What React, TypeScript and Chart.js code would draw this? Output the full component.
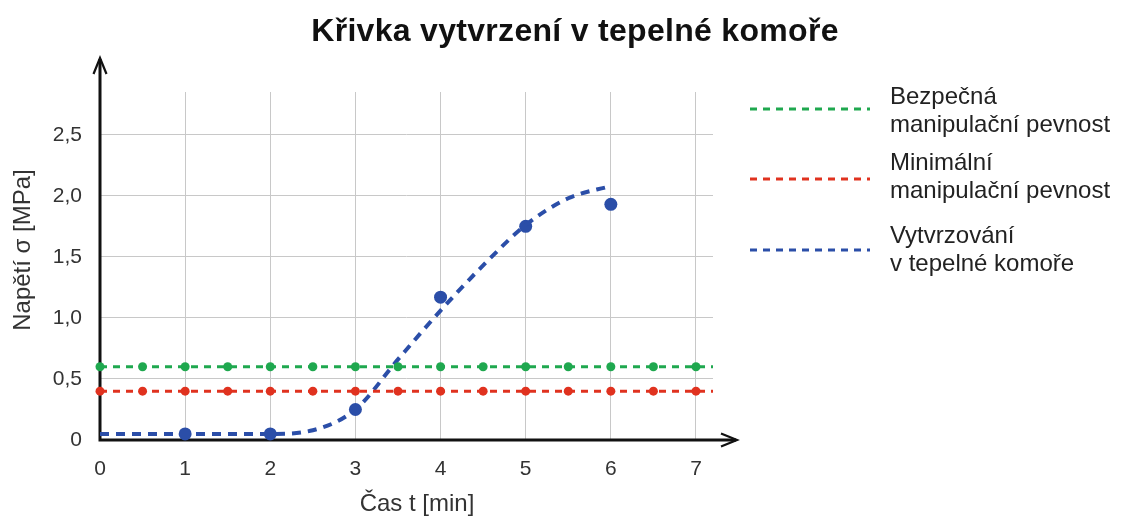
import React, { useEffect, useRef } from "react";
import { Chart, registerables } from "chart.js";

Chart.register(...registerables);

const chartTitle = "Křivka vytvrzení v tepelné komoře";
const xAxisTitle = "Čas t [min]";
const yAxisTitle = "Napětí σ [MPa]";
const xTicks = [0, 1, 2, 3, 4, 5, 6, 7];
const yTicks = [0, 0.5, 1, 1.5, 2, 2.5];

const levelX = [0, 0.5, 1, 1.5, 2, 2.5, 3, 3.5, 4, 4.5, 5, 5.5, 6, 6.5, 7, 7.2];
const safeStrength = 0.6;
const minStrength = 0.4;

const measuredX = [1, 2, 3, 4, 5, 6];
const measuredY = [0.05, 0.05, 0.25, 1.17, 1.75, 1.93];

const curveX = [0, 0.5, 1, 1.5, 2, 2.5, 3, 3.5, 4, 4.5, 5, 5.5, 6];
const curveY = [0.05, 0.05, 0.05, 0.05, 0.05, 0.08, 0.25, 0.66, 1.06, 1.43, 1.76, 1.98, 2.08];

const legendLabels = [
  ["Bezpečná", "manipulační pevnost"],
  ["Minimální", "manipulační pevnost"],
  ["Vytvrzování", "v tepelné komoře"],
];

const GREEN = "#1fa84f";
const RED = "#e0321f";
const BLUE = "#2b4ea8";
const FONT = "'Liberation Sans', Arial, sans-serif";

const axesPlugin = {
  id: "arrowAxes",
  beforeDatasetsDraw(chart: any) {
    const { ctx, scales } = chart;
    const x0 = scales.x.getPixelForValue(0);
    const y0 = scales.y.getPixelForValue(0);
    const xEnd = chart.chartArea.right + 24;
    const yEnd = chart.chartArea.top - 34;
    ctx.save();
    ctx.strokeStyle = "#111";
    ctx.lineWidth = 3;
    ctx.lineCap = "butt";
    ctx.beginPath();
    ctx.moveTo(x0, y0 + 1.5);
    ctx.lineTo(x0, yEnd + 1);
    ctx.moveTo(x0 - 1.5, y0);
    ctx.lineTo(xEnd - 1, y0);
    ctx.stroke();
    ctx.lineWidth = 2.2;
    ctx.lineJoin = "miter";
    ctx.beginPath();
    ctx.moveTo(x0 - 6.5, yEnd + 16);
    ctx.lineTo(x0, yEnd);
    ctx.lineTo(x0 + 6.5, yEnd + 16);
    ctx.moveTo(xEnd - 16, y0 - 6.5);
    ctx.lineTo(xEnd, y0);
    ctx.lineTo(xEnd - 16, y0 + 6.5);
    ctx.stroke();
    ctx.restore();
  },
};

const textPlugin = {
  id: "titleLegend",
  afterDraw(chart: any) {
    const { ctx } = chart;
    ctx.save();
    ctx.fillStyle = "#111";
    ctx.font = `bold 32px ${FONT}`;
    try {
      (ctx as any).letterSpacing = "0.3px";
    } catch (e) {}
    ctx.textAlign = "center";
    ctx.textBaseline = "alphabetic";
    ctx.fillText(chartTitle, 575, 41);
    try {
      (ctx as any).letterSpacing = "0px";
    } catch (e) {}

    // axis titles
    ctx.fillStyle = "#333";
    ctx.font = `24px ${FONT}`;
    ctx.fillText(xAxisTitle, 417, 511);
    ctx.save();
    ctx.translate(23, 250);
    ctx.rotate(-Math.PI / 2);
    ctx.textBaseline = "middle";
    ctx.fillText(yAxisTitle, 0, 0);
    ctx.restore();

    // legend
    const baselines = [104, 170, 243];
    const sampleY = [109, 179, 250];
    ctx.font = `24px ${FONT}`;
    ctx.textAlign = "left";
    ctx.fillStyle = "#222";
    legendLabels.forEach((lines, i) => {
      const ds = chart.data.datasets[i];
      ctx.save();
      ctx.strokeStyle = ds.borderColor;
      ctx.lineWidth = 3;
      ctx.setLineDash([7, 6]);
      ctx.beginPath();
      ctx.moveTo(750, sampleY[i]);
      ctx.lineTo(870, sampleY[i]);
      ctx.stroke();
      ctx.restore();
      lines.forEach((t, j) => ctx.fillText(t, 890, baselines[i] + j * 28));
    });
    ctx.restore();
  },
};

export default function App() {
  const ref = useRef<HTMLCanvasElement | null>(null);

  useEffect(() => {
    if (!ref.current) return;
    const chart = new Chart(ref.current, {
      type: "scatter",
      data: {
        datasets: [
          {
            label: "Bezpečná manipulační pevnost",
            data: levelX.map((x) => ({ x, y: safeStrength })),
            showLine: true,
            borderColor: GREEN,
            backgroundColor: GREEN,
            borderWidth: 3,
            borderDash: [7, 6],
            pointRadius: levelX.map((x) => (x > 7 ? 0 : 4.5)),
            pointBorderWidth: 0,
            clip: false,
          },
          {
            label: "Minimální manipulační pevnost",
            data: levelX.map((x) => ({ x, y: minStrength })),
            showLine: true,
            borderColor: RED,
            backgroundColor: RED,
            borderWidth: 3,
            borderDash: [7, 6],
            pointRadius: levelX.map((x) => (x > 7 ? 0 : 4.5)),
            pointBorderWidth: 0,
            clip: false,
          },
          {
            label: "Vytvrzování v tepelné komoře",
            data: curveX.map((x, i) => ({ x, y: curveY[i] })),
            showLine: true,
            borderColor: BLUE,
            backgroundColor: BLUE,
            borderWidth: 4,
            borderDash: [9, 7],
            cubicInterpolationMode: "monotone",
            pointRadius: 0,
            clip: false,
          },
          {
            label: "Měření",
            data: measuredX.map((x, i) => ({ x, y: measuredY[i] })),
            showLine: false,
            borderColor: BLUE,
            backgroundColor: BLUE,
            pointRadius: 6.5,
            pointBorderWidth: 0,
            clip: false,
          },
        ],
      },
      options: {
        animation: false,
        responsive: false,
        maintainAspectRatio: false,
        layout: { padding: { top: 92, right: 415, left: 0, bottom: 0 } },
        plugins: {
          legend: { display: false },
          title: { display: false },
          tooltip: { enabled: false },
        },
        scales: {
          x: {
            type: "linear",
            min: 0,
            max: 7.2,
            afterFit: (s: any) => {
              s.height = 76;
            },
            afterBuildTicks: (s: any) => {
              s.ticks = xTicks.map((v) => ({ value: v }));
            },
            grid: { color: "#c8c8c8", lineWidth: 1, drawTicks: false },
            border: { display: false },
            ticks: {
              padding: 17,
              color: "#333",
              font: { family: FONT, size: 21 },
              callback: (v: any) => String(v),
            },
          },
          y: {
            type: "linear",
            min: 0,
            max: 2.85,
            afterFit: (s: any) => {
              s.width = 100;
            },
            afterBuildTicks: (s: any) => {
              s.ticks = yTicks.map((v) => ({ value: v }));
            },
            grid: { color: "#c8c8c8", lineWidth: 1, drawTicks: false },
            border: { display: false },
            ticks: {
              padding: 18,
              color: "#333",
              font: { family: FONT, size: 21 },
              callback: (v: any) => (v === 0 ? "0" : Number(v).toFixed(1).replace(".", ",")),
            },
          },
        },
      },
      plugins: [axesPlugin, textPlugin],
    } as any);
    return () => chart.destroy();
  }, []);

  return (
    <div style={{ position: "absolute", left: 0, top: 0, width: 1128, height: 516, background: "#fff" }}>
      <canvas ref={ref} width={1128} height={516} style={{ display: "block" }} />
    </div>
  );
}
